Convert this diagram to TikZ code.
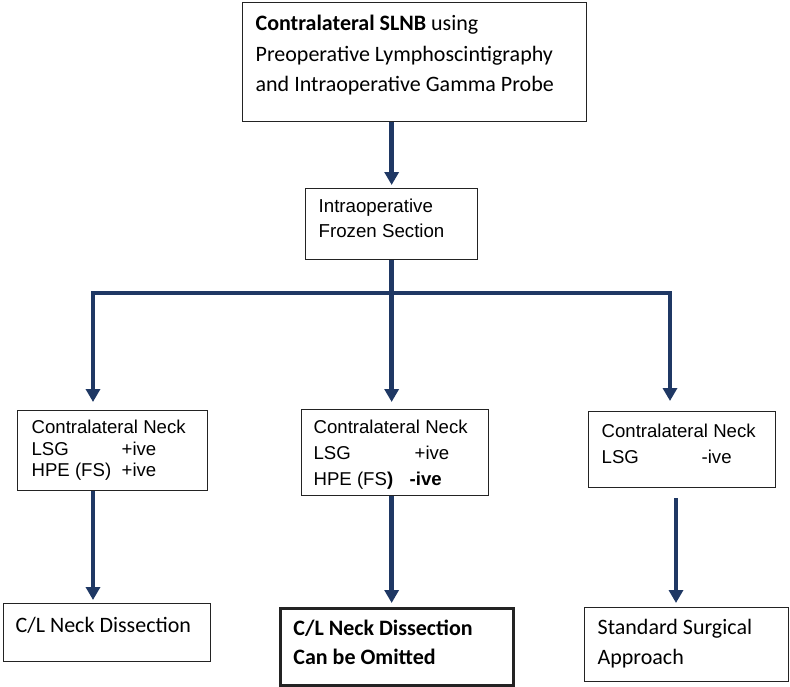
\documentclass[tikz,border=0pt]{standalone}
\usepackage{fontspec}
\setmainfont{Carlito}
\newfontfamily\arialf{Liberation Sans}
\usetikzlibrary{arrows.meta,calc}
\definecolor{navy}{RGB}{31,56,100}
\definecolor{edge}{RGB}{35,35,35}
\tikzset{
  box/.style={draw=edge, line width=1.3bp, rectangle, anchor=north west, inner ysep=0pt},
  tip/.tip={Triangle[width=14bp,length=13bp]},
  flow/.style={draw=navy, line width=4.5bp, -tip},
  bar/.style={draw=navy, line width=4.5bp},
}
\begin{document}
\begin{tikzpicture}[x=1bp,y=-1bp]
\useasboundingbox (0,0) rectangle (790,687);

% top box
\node[box, inner xsep=13bp] (top) at (242,2)
  {\parbox[t][119bp][t]{318bp}{\fontsize{22bp}{30.5bp}\selectfont\rule{0pt}{28bp}\textbf{Contralateral SLNB} using\\Preoperative Lymphoscintigraphy\\and Intraoperative Gamma Probe}};

% frozen section
\node[box, inner xsep=13bp] (fs) at (305,188)
  {\parbox[t][71bp][t]{146bp}{\arialf\fontsize{18.7bp}{25bp}\selectfont\rule{0pt}{24bp}Intraoperative\\Frozen Section}};

% middle row
\node[box, inner xsep=14bp] (m1) at (17,410)
  {\parbox[t][80bp][t]{162bp}{\arialf\fontsize{18.6bp}{21.5bp}\selectfont\rule{0pt}{23bp}Contralateral Neck\\\makebox[90bp][l]{LSG}+ive\\\makebox[90bp][l]{HPE (FS)}+ive}};
\node[box, inner xsep=12bp] (m2) at (301,409)
  {\parbox[t][86bp][t]{163bp}{\arialf\fontsize{18.6bp}{26bp}\selectfont\rule{0pt}{24bp}Contralateral Neck\\\makebox[101bp][l]{LSG}+ive\\\makebox[96bp][l]{HPE (FS\textbf{)}}\textbf{-ive}}};
\node[box, inner xsep=13bp] (m3) at (588,411)
  {\parbox[t][76bp][t]{161bp}{\arialf\fontsize{18.6bp}{26bp}\selectfont\rule{0pt}{26bp}Contralateral Neck\\\makebox[100bp][l]{LSG}-ive}};

% bottom row
\node[box, inner xsep=12bp] (b1) at (3,603)
  {\parbox[t][58bp][t]{183bp}{\fontsize{22bp}{29bp}\selectfont\rule{0pt}{29bp}C/L Neck Dissection}};
\node[box, line width=2.8bp, inner xsep=13bp] (b2) at (279,607)
  {\parbox[t][77bp][t]{207bp}{\fontsize{22bp}{29bp}\selectfont\bfseries\rule{0pt}{27bp}C/L Neck Dissection\\Can be Omitted}};
\node[box, inner xsep=13bp] (b3) at (584,607)
  {\parbox[t][74bp][t]{178bp}{\fontsize{22bp}{30bp}\selectfont\rule{0pt}{27bp}Standard Surgical\\Approach}};

% connectors
\coordinate (jl) at (93,293);
\coordinate (jr) at (670,293);
\coordinate (xr) at (676,0);

\draw[flow, shorten >=3bp] (top.south -| fs.north) -- (fs.north);
\draw[flow, shorten >=7bp] (fs.south) -- (fs.south |- m2.north);
\draw[bar, tip-tip, shorten <=8bp, shorten >=10bp] (jl |- m1.north) -- (jl) -- (jr) -- (jr |- m3.north);
\draw[flow, shorten >=3bp] (jl |- m1.south) -- (jl |- b1.north);
\draw[flow, shorten >=4bp] (fs.south |- m2.south) -- (fs.south |- b2.north);
\draw[flow, shorten <=10bp, shorten >=4bp] (xr |- m3.south) -- (xr |- b3.north);
\end{tikzpicture}
\end{document}
